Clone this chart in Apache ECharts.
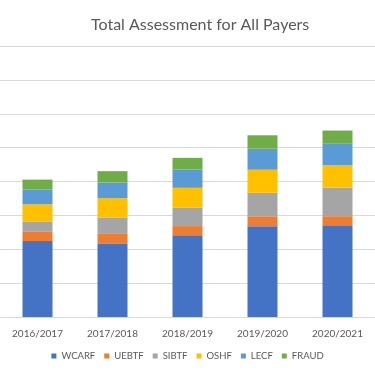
<!DOCTYPE html>
<html>
<head>
<meta charset="utf-8">
<script src="https://cdn.jsdelivr.net/npm/echarts@6/dist/echarts.min.js"></script>
<style>
  html, body { margin: 0; padding: 0; background: #fff; }
  #chart { width: 375px; height: 375px; }
</style>
</head>
<body>
<div id="chart"></div>
<script>
const years = ['2016/2017', '2017/2018', '2018/2019', '2019/2020', '2020/2021']

const wcarf = [112, 108, 120.5, 134, 135.5]
const uebtf = [13.7, 14.7, 13.7, 14.7, 13.3]
const sibtf = [14.7, 24.2, 27, 34.8, 42.2]
const oshf  = [26, 28.5, 29.5, 33.9, 33]
const lecf  = [21.7, 23.2, 27.1, 31, 32.5]
const fraud = [14.7, 16.7, 17.1, 19.8, 18.7]

const SERIES = [
  { name: 'WCARF', data: wcarf, color: '#4472C4' },
  { name: 'UEBTF', data: uebtf, color: '#ED7D31' },
  { name: 'SIBTF', data: sibtf, color: '#A5A5A5' },
  { name: 'OSHF',  data: oshf,  color: '#FFC000' },
  { name: 'LECF',  data: lecf,  color: '#5B9BD5' },
  { name: 'FRAUD', data: fraud, color: '#70AD47' },
]

const FONT = 'Lato, "Open Sans", sans-serif'
const chart = echarts.init(document.getElementById('chart'))
chart.setOption({
  animation: false,
  title: {
    text: 'Total Assessment for All Payers',
    left: 86,
    top: 12,
    textStyle: { fontFamily: FONT, fontSize: 16, fontWeight: 'normal', color: '#595959' },
  },
  legend: {
    bottom: 9,
    left: 'center',
    icon: 'rect',
    itemWidth: 5,
    itemHeight: 5,
    itemGap: 9,
    textStyle: { fontFamily: FONT, fontSize: 9.5, color: '#595959' },
    data: SERIES.map(s => s.name),
  },
  grid: { left: -4, right: -2, top: 46, bottom: 58 },
  xAxis: {
    type: 'category',
    data: years,
    axisLine: { lineStyle: { color: '#d9d9d9' } },
    axisTick: { show: false },
    axisLabel: { fontFamily: FONT, fontSize: 10, color: '#595959', margin: 12 },
  },
  yAxis: {
    type: 'value',
    min: 0,
    max: 400,
    interval: 50,
    axisLabel: { show: false },
    axisLine: { show: false },
    axisTick: { show: false },
    splitLine: { lineStyle: { color: '#d9d9d9' } },
  },
  series: SERIES.map(s => ({
    type: 'bar',
    name: s.name,
    stack: 'total',
    barWidth: 30,
    data: s.data,
    itemStyle: { color: s.color },
  })),
})
</script>
</body>
</html>
